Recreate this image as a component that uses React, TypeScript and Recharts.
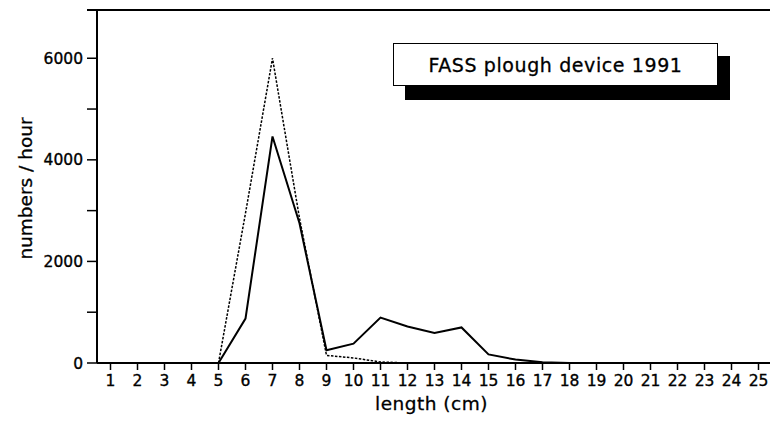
import React from 'react';
import { LineChart, Line, XAxis, YAxis, ReferenceLine, Legend } from 'recharts';

const lengthCm = [1, 2, 3, 4, 5, 6, 7, 8, 9, 10, 11, 12, 13, 14, 15, 16, 17, 18, 19, 20, 21, 22, 23, 24, 25];
const fassSolid = [0, 0, 0, 0, 0, 875, 4460, 2750, 250, 380, 895, 720, 590, 700, 170, 67, 15, 0, 0, 0, 0, 0, 0, 0, 0];
const fassDashed = [0, 0, 0, 0, 0, 2950, 6000, 2850, 150, 100, 20, 0, 0, 0, 0, 0, 0, 0, 0, 0, 0, 0, 0, 0, 0];
const yTicks = [0, 1000, 2000, 3000, 4000, 5000, 6000];
const yLabeled = [0, 2000, 4000, 6000];
const yTop = 6950;
const legendTitle = 'FASS plough device 1991';
const xTitle = 'length (cm)';
const yTitle = 'numbers / hour';

const FONT = '"DejaVu Sans", "Liberation Sans", sans-serif';

const data = lengthCm.map((len, i) => ({ len, solid: fassSolid[i], dashed: fassDashed[i] }));

const LegendBox = () => (
  <div style={{ position: 'relative', width: 340, height: 58 }}>
    <div style={{ position: 'absolute', left: 12, top: 13, width: 325, height: 44, background: '#000' }} />
    <div
      style={{
        position: 'absolute', left: 0, top: 0, width: 325, height: 43, boxSizing: 'border-box',
        background: '#fff', border: '1.5px solid #000', display: 'flex', alignItems: 'center',
        justifyContent: 'center', fontFamily: FONT, fontSize: 19, letterSpacing: 0.6, color: '#000',
        WebkitTextStroke: '0.3px #000',
      }}
    >
      {legendTitle}
    </div>
  </div>
);

const TopLine = (p: any) => (
  <line x1={p.x1 - 10} y1={p.y1} x2={p.x2} y2={p.y2} stroke="#000" strokeWidth={2} />
);

const tickStyle = { fill: '#000', fontSize: 15.5, fontFamily: FONT, stroke: '#000', strokeWidth: 0.35 };

export default function App() {
  return (
    <div style={{ position: 'absolute', left: 0, top: 0, width: 770, height: 423, overflow: 'hidden', background: '#fff' }}>
      <LineChart width={775} height={423} data={data} margin={{ top: 10, right: 3, bottom: 0, left: 0 }}>
        <XAxis
          dataKey="len"
          type="number"
          domain={[0.5, 25.5]}
          ticks={lengthCm}
          interval={0}
          height={60}
          tickSize={7}
          tickMargin={5}
          axisLine={{ stroke: '#000', strokeWidth: 2 }}
          tickLine={{ stroke: '#000', strokeWidth: 1.5 }}
          tick={tickStyle}
          label={{
            content: (props: any) => {
              const vb = props.viewBox;
              return (
                <text x={vb.x + vb.width / 2 - 3} y={410} textAnchor="middle" fontFamily={FONT} fontSize={18.5} letterSpacing={0.5} fill="#000" stroke="#000" strokeWidth={0.3}>
                  {xTitle}
                </text>
              );
            },
          }}
        />
        <YAxis
          type="number"
          domain={[0, yTop]}
          ticks={yTicks}
          interval={0}
          width={97}
          tickSize={10}
          tickMargin={4}
          axisLine={{ stroke: '#000', strokeWidth: 2 }}
          tickLine={{ stroke: '#000', strokeWidth: 1.5 }}
          tick={tickStyle}
          tickFormatter={(v: number) => (yLabeled.includes(v) ? String(v) : '')}
          label={{
            content: (props: any) => {
              const vb = props.viewBox;
              const cy = vb.y + vb.height / 2 + 2;
              return (
                <text x={32} y={cy} transform={`rotate(-90 32 ${cy})`} textAnchor="middle" fontFamily={FONT} fontSize={18.5} fill="#000" stroke="#000" strokeWidth={0.3}>
                  {yTitle}
                </text>
              );
            },
          }}
        />
        <ReferenceLine y={yTop} shape={TopLine} />
        <Line dataKey="dashed" stroke="#000" strokeWidth={1.5} strokeDasharray="2.5 1.5" dot={false} isAnimationActive={false} />
        <Line dataKey="solid" stroke="#000" strokeWidth={2} dot={false} isAnimationActive={false} />
        <Legend
          layout="vertical"
          align="center"
          verticalAlign="middle"
          content={() => <LegendBox />}
          wrapperStyle={{ position: 'absolute', left: 393, top: 43, width: 340, height: 58 }}
        />
      </LineChart>
    </div>
  );
}
